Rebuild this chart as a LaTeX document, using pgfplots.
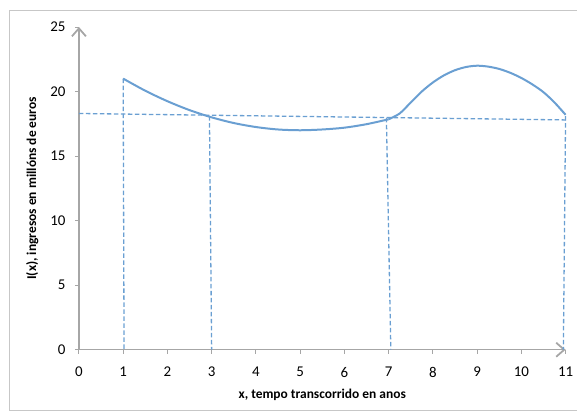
\documentclass[border=0pt]{standalone}
\usepackage{fontspec}
\setmainfont{Carlito}
\usepackage{pgfplots}
\pgfplotsset{compat=1.18}
\usetikzlibrary{arrows.meta}
\definecolor{curve}{HTML}{6A9FD2}
\definecolor{axgray}{HTML}{A6A6A6}
\begin{document}
\begin{tikzpicture}[x=1bp,y=1bp]
\path (0,0) rectangle (577,414);
\draw[color=black!22, line width=0.9bp] (577,404) -- (9,404) -- (9,3) -- (577,3);
\begin{axis}[
  at={(79bp,64bp)}, anchor=south west,
  scale only axis, width=487bp, height=323bp,
  xmin=0, xmax=11, ymin=0, ymax=25,
  axis lines=left,
  font=\fontsize{13.5}{16}\selectfont,
  axis line style={axgray, line width=1.5bp, -{Straight Barb[length=8bp,width=14bp,line width=1.8bp]}},
  xtick={0,1,...,11}, ytick={0,5,...,25},
  tick align=outside, major tick length=4bp,
  tick style={axgray, line width=0.9bp},
  /pgf/number format/assume math mode=true,
  xticklabel style={yshift=-10bp, font=\fontsize{15}{17}\selectfont},
  yticklabel style={xshift=-6bp, font=\fontsize{15}{17}\selectfont},
  xlabel={\bfseries x, tempo transcorrido en anos},
  ylabel={\bfseries I(x), ingresos en millóns de euros},
  xlabel style={yshift=-5bp, font=\fontsize{13.5}{16}\selectfont},
  ylabel style={yshift=5bp, font=\fontsize{13.5}{16}\selectfont},
  clip=false,
]
\addplot[curve, line width=2bp, smooth] coordinates {
 (1,21) (1.5,20.06) (2,19.25) (2.5,18.56) (3,18.0) (3.5,17.56) (4,17.25) (4.5,17.06) (5,17.0) (5.5,17.06) (6,17.2) (6.5,17.47) (7,17.85)
};
\addplot[curve, line width=2bp, smooth] coordinates {
 (7,17.85) (7.25,18.3) (7.5,19.15) (7.75,20.0) (8,20.7) (8.25,21.25) (8.5,21.65) (8.75,21.9) (9,22.0) (9.25,21.93) (9.5,21.75) (9.75,21.45) (10,21.05) (10.25,20.55) (10.5,19.95) (10.75,19.15) (11,18.2)
};
\addplot[curve, line width=1.3bp, dash pattern=on 4.5bp off 2.5bp] coordinates {(0,18.3) (11,17.8)};
\addplot[curve, line width=1.3bp, dash pattern=on 4.5bp off 2.5bp] coordinates {(1,21) (1.02,0)};
\addplot[curve, line width=1.3bp, dash pattern=on 4.5bp off 2.5bp] coordinates {(2.95,18.1) (3.0,0)};
\addplot[curve, line width=1.3bp, dash pattern=on 4.5bp off 2.5bp] coordinates {(6.95,17.95) (7.05,0)};
\addplot[curve, line width=1.3bp, dash pattern=on 4.5bp off 2.5bp] coordinates {(11,18.1) (10.95,0)};
\end{axis}
\end{tikzpicture}
\end{document}
